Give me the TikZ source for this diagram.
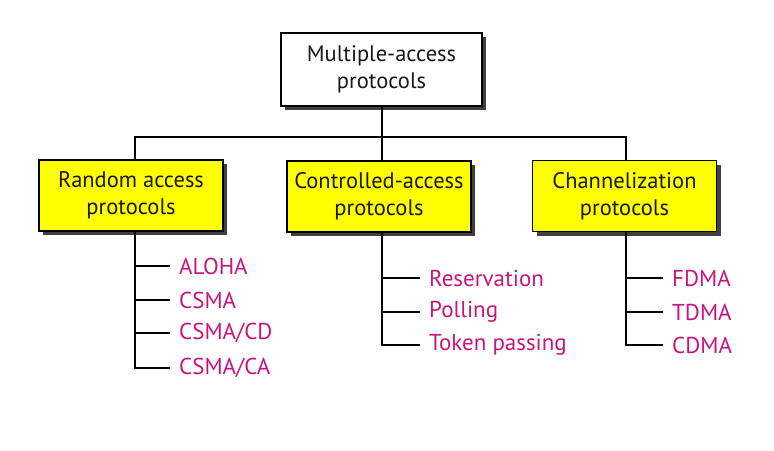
\documentclass[tikz,border=0pt]{standalone}
\usepackage{fontspec}
\setmainfont{PT Sans}
\definecolor{leafc}{RGB}{200,20,125}
\definecolor{boxy}{RGB}{255,255,0}
\begin{document}
\begin{tikzpicture}[x=1pt,y=-1pt,
  box/.style={draw=black, line width=1.3pt, align=center, inner sep=0pt,
    font=\fontsize{22.5}{27}\selectfont, text=black!90},
  shadowed/.style={preaction={fill=black!75, transform canvas={shift={(4pt,-4pt)}}}},
  topbox/.style={box, shadowed, fill=white, minimum width=201pt, minimum height=73pt},
  catbox/.style={box, shadowed, fill=boxy, minimum width=184pt, minimum height=71pt},
  leaf/.style={anchor=west, inner xsep=9pt, inner ysep=0pt, text=leafc,
    font=\fontsize{23}{25}\selectfont},
  conn/.style={line width=2.2pt, black}]
\useasboundingbox (0,0) rectangle (774,450);
\node[topbox] (top) at (381.5,69.5) {Multiple-access\\protocols};
\node[catbox] (ra) at (131,195.5) {Random access\\protocols};
\node[catbox] (ca) at (379,196.5) {Controlled-access\\protocols};
\node[catbox] (ch) at (624.5,196) {Channelization\\protocols};
\coordinate (bus) at (382,137);
\coordinate (raL) at (135,231);
\coordinate (caL) at (382,232);
\coordinate (chL) at (626,232);
\draw[conn] (raL |- ra.north) |- (bus) -| (chL |- ch.north);
\draw[conn] (bus |- top.south) -- (caL |- ca.north);
\node[leaf] (aloha) at (170,266) {ALOHA};
\node[leaf] (csma) at (170,300) {CSMA};
\node[leaf] (csmacd) at (170,333) {CSMA/CD};
\node[leaf] (csmaca) at (170,368) {CSMA/CA};
\node[leaf] (res) at (420,278) {Reservation};
\node[leaf] (pol) at (420,312) {Polling};
\node[leaf] (tok) at (420,345) {Token passing};
\node[leaf] (fdma) at (663,278) {FDMA};
\node[leaf] (tdma) at (663,312) {TDMA};
\node[leaf] (cdma) at (663,345) {CDMA};
\draw[conn] (raL) |- (csmaca.west);
\foreach \n in {aloha,csma,csmacd} \draw[conn] (\n.west) -- (\n.west -| raL);
\draw[conn] (caL) |- (tok.west);
\foreach \n in {res,pol} \draw[conn] (\n.west) -- (\n.west -| caL);
\draw[conn] (chL) |- (cdma.west);
\foreach \n in {fdma,tdma} \draw[conn] (\n.west) -- (\n.west -| chL);
\end{tikzpicture}
\end{document}
